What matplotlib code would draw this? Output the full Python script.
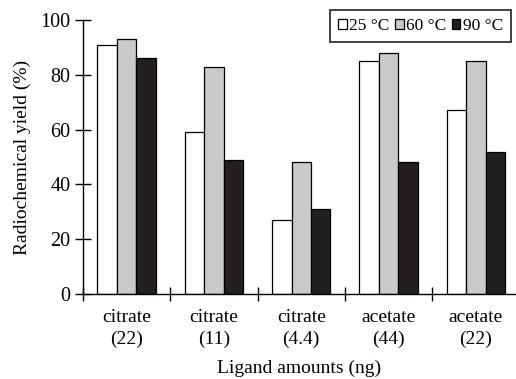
import matplotlib
matplotlib.use("Agg")
import matplotlib.pyplot as plt
import numpy as np

categories = ["citrate\n(22)", "citrate\n(11)", "citrate\n(4.4)", "acetate\n(44)", "acetate\n(22)"]
series_names = ["25 °C", "60 °C", "90 °C"]
v25 = [91, 59, 27, 85, 67]
v60 = [93, 83, 48, 88, 85]
v90 = [86, 49, 31, 48, 52]
colors = ["white", "#c8c9cb", "#231f20"]

plt.rcParams['font.family'] = ['Liberation Serif', 'DejaVu Serif']
plt.rcParams['font.size'] = 14

fig = plt.figure(figsize=(5.16, 3.79), dpi=100)
ax = fig.add_axes([83/516, 85/379, 1 - 83/516, 274/379])

x = np.arange(len(categories))
w = 0.223
for i, (vals, c, name) in enumerate(zip([v25, v60, v90], colors, series_names)):
    ax.bar(x + (i - 1) * w, vals, width=w, color=c, edgecolor="black", linewidth=0.9, label=name)

ax.set_xlim(-0.5, -0.5 + (516 - 83) / 87.3)
ax.set_ylim(0, 100)
ax.spines['top'].set_visible(False)
ax.spines['right'].set_visible(False)
ax.spines['left'].set_linewidth(1.0)
ax.spines['bottom'].set_linewidth(1.0)

ax.set_yticks([0, 20, 40, 60, 80, 100])
ax.tick_params(axis='y', direction='inout', length=12, width=1.0, labelsize=14.5, pad=3)
ax.set_xticks(np.arange(len(categories)) - 0.5)
ax.set_xticklabels([])
ax.tick_params(axis='x', direction='inout', length=10, width=1.0)
ax.set_xticks(x, minor=True)
ax.set_xticklabels(categories, minor=True, fontsize=14, linespacing=1.35)
ax.tick_params(axis='x', which='minor', length=0, pad=11)

ax.set_ylabel("Radiochemical yield (%)", fontsize=14, labelpad=7)
ax.set_xlabel("Ligand amounts (ng)", fontsize=14, labelpad=8)

leg = ax.legend(ncol=3, loc='upper right', bbox_to_anchor=((511 - 83) / 433, 1 + 10/274),
                frameon=True, fancybox=False, edgecolor='black', fontsize=12.5,
                handlelength=0.5, handleheight=0.5, handletextpad=0.15, columnspacing=0.3,
                borderpad=0.45, borderaxespad=0)
leg.get_frame().set_linewidth(1.3)

fig.savefig("out.png", dpi=100)
